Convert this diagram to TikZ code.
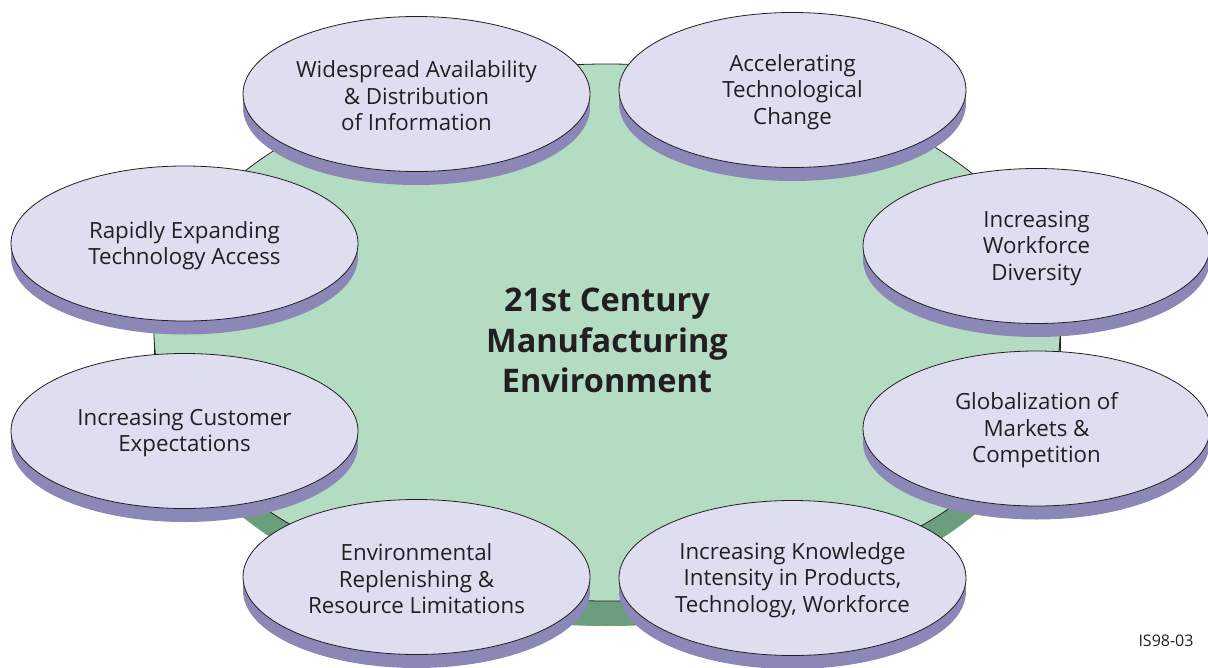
\documentclass[tikz,border=0pt]{standalone}
\usepackage{fontspec}
\setmainfont{Open Sans}
\usetikzlibrary{shapes.geometric}
\definecolor{facec}{RGB}{223,222,240}
\definecolor{sidec}{RGB}{139,135,183}
\definecolor{greentop}{RGB}{179,220,195}
\definecolor{greenside}{RGB}{106,158,126}
\definecolor{linec}{RGB}{35,31,32}
\definecolor{txtc}{RGB}{35,31,32}
\tikzset{
  smallface/.style={ellipse, fill=facec, draw=linec, line width=0.8pt,
    minimum width=347pt, minimum height=155pt, inner sep=0pt,
    align=center, text=txtc, font=\fontsize{22.3}{26.5}\selectfont},
  bigface/.style={ellipse, fill=greentop, draw=linec, line width=0.8pt,
    minimum width=906pt, minimum height=537pt, inner sep=0pt,
    align=center, text=txtc, font=\bfseries\fontsize{32.5}{40.5}\selectfont},
  lbltext/.style={text=txtc, align=center, font=\fontsize{22.3}{26.5}\selectfont},
}
\newcommand{\smallside}[1]{%
  \fill[sidec] ([yshift=-13.5pt]#1) ellipse [x radius=173.5pt, y radius=77.5pt];
  \fill[sidec] ([xshift=-173.5pt]#1) rectangle ([xshift=173.5pt,yshift=-13.5pt]#1);
}
\begin{document}
\begin{tikzpicture}[x=1pt,y=-1pt]
\useasboundingbox (0,0) rectangle (1208,667);
% central disk
\coordinate (cc) at (607,332.5);
\fill[greenside] ([yshift=-25pt]cc) ellipse [x radius=453pt, y radius=268.5pt];
\fill[greenside] ([xshift=-453pt]cc) rectangle ([xshift=453pt,yshift=-25pt]cc);
\draw[linec, line width=0.8pt] ([xshift=-453pt]cc) -- ([xshift=-453pt,yshift=-25pt]cc);
\draw[linec, line width=0.8pt] ([xshift=453pt]cc) -- ([xshift=453pt,yshift=-25pt]cc);
\node[bigface] (center) at (cc) {};
\node[text=txtc, align=center, font=\bfseries\fontsize{32.5}{40.5}\selectfont] (title) at ([yshift=-8pt]cc) {21st Century\\Manufacturing\\Environment};
% small disk positions
\coordinate (p1) at (416.5,94);
\coordinate (p2) at (792.5,90);
\coordinate (p3) at (184.5,243.5);
\coordinate (p4) at (1036.5,246);
\coordinate (p5) at (184.5,431);
\coordinate (p6) at (1036.5,428.5);
\coordinate (p7) at (416.5,577);
\coordinate (p8) at (792.5,578);
\smallside{p1}\smallside{p2}\smallside{p3}\smallside{p4}
\smallside{p5}\smallside{p6}\smallside{p7}\smallside{p8}
\foreach \p/\n in {p1/n1,p2/n2,p3/n3,p4/n4,p5/n5,p6/n6,p7/n7,p8/n8}
  \node[smallface] (\n) at (\p) {};
\node[lbltext] (t1) at ([yshift=-2pt]p1) {Widespread Availability\\\& Distribution\\of Information};
\node[lbltext] (t2) at ([yshift=-2pt]p2) {Accelerating\\Technological\\Change};
\node[lbltext] (t3) at ([yshift=-2pt]p3) {Rapidly Expanding\\Technology Access};
\node[lbltext] (t4) at ([yshift=-2pt]p4) {Increasing\\Workforce\\Diversity};
\node[lbltext] (t5) at ([yshift=-2pt]p5) {Increasing Customer\\Expectations};
\node[lbltext] (t6) at ([yshift=-2pt]p6) {Globalization of\\Markets \&\\Competition};
\node[lbltext] (t7) at ([yshift=-2pt]p7) {Environmental\\Replenishing \&\\Resource Limitations};
\node[lbltext] (t8) at ([yshift=-2pt]p8) {Increasing Knowledge\\Intensity in Products,\\Technology, Workforce};
\node[text=txtc, font=\fontsize{16}{19}\selectfont] (tag) at (1166,641) {IS98-03};
\end{tikzpicture}
\end{document}
